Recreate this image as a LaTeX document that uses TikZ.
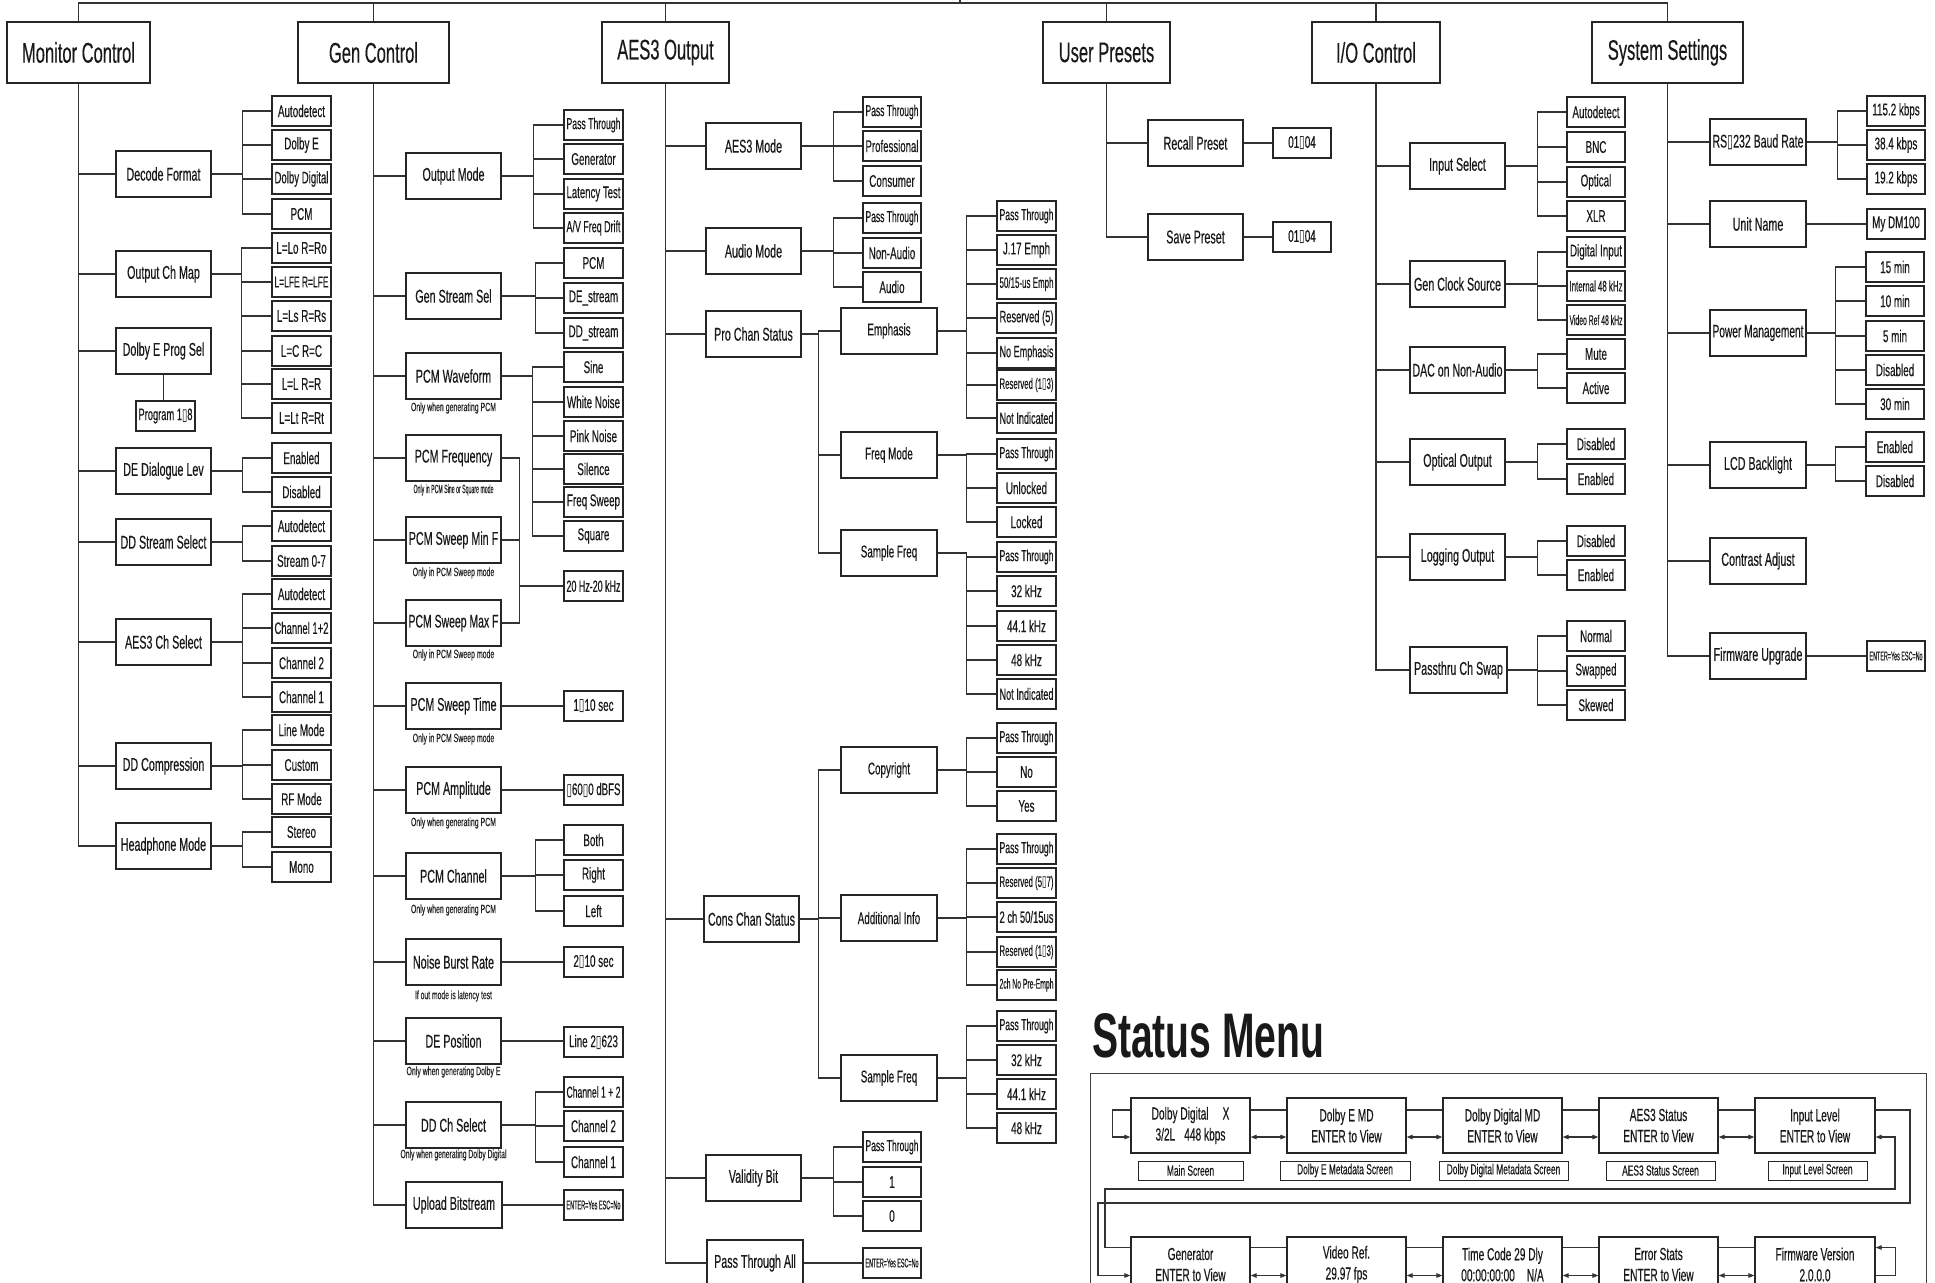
\documentclass[tikz,border=0pt]{standalone}
\usepackage{fontspec}
\setmainfont[FakeStretch=0.58,FakeBold=0.3]{Liberation Sans}
\newfontfamily\titlefont[FakeStretch=0.62]{Liberation Sans}
\newfontfamily\symfont[FakeStretch=0.6]{DejaVu Sans}
\usepackage{graphicx}
\usetikzlibrary{arrows.meta}
\newcommand\tofu{{\symfont ▯}}
\newlength\fitlen
\newcommand\fittext[2]{\setlength\fitlen{#1}\sbox0{#2}\ifdim\wd0>\fitlen
 \pgfmathsetmacro\fitfx{\fitlen/\wd0}\pgfmathsetmacro\fitfy{sqrt(\fitfx)}\scalebox{\fitfx}[\fitfy]{\usebox0}\else\usebox0\fi}
\newcommand\fitx[2]{\setlength\fitlen{#1}\sbox0{#2}\ifdim\wd0>\fitlen\resizebox{\fitlen}{\height}{\usebox0}\else\usebox0\fi}
\newcommand\boxn[7][]{%
 \pgfmathsetmacro\bxcx{(#3+#5)/2}%
 \pgfmathsetmacro\bxcy{(#4+#6)/2}%
 \pgfmathsetmacro\bxw{#5-#3}%
 \pgfmathsetmacro\bxh{#6-#4}%
 \node[box,#1,minimum width=\bxw pt,minimum height=\bxh pt] (#2) at (\bxcx,\bxcy) {\fittext{\dimexpr\bxw pt-5pt\relax}{#7}};}
\newcommand\boxp[7][]{%
 \pgfmathsetmacro\bxcx{(#3+#5)/2}%
 \pgfmathsetmacro\bxcy{(#4+#6)/2}%
 \pgfmathsetmacro\bxw{#5-#3}%
 \pgfmathsetmacro\bxh{#6-#4}%
 \node[box,#1,minimum width=\bxw pt,minimum height=\bxh pt] (#2) at (\bxcx,\bxcy) {#7};}
\newcommand\opt[5][59]{\boxn[opt]{#2}{#3}{#4}{#3+#1}{#4+30}{#5}}
\newcommand\lvl[5][95]{\boxn[lvl]{#2}{#3}{#4}{#3+#1}{#4+46}{#5}}
\newcommand\lvlc[5][96]{\boxn[lvlc]{#2}{#3}{#4}{#3+#1}{#4+46}{#5}}
\newcommand\branch[3]{\foreach \chn in {#3}{\draw[conn] (#1.east) -- ++(#2,0) |- (\chn.west);}}
\newcommand\trunk[2]{\foreach \chn in {#2}{\draw[conn] (#1.south) |- (\chn.west);}}
\newcommand\single[2]{\draw[conn] (#1.east) -- (#1.east -| #2.west);}
\tikzset{
 box/.style={draw=black!85, line width=1.2pt, fill=white, inner sep=0pt, text=black!90},
 hdr/.style={font=\fontsize{28.5}{30}\selectfont},
 lvl/.style={font=\fontsize{18.5}{20}\selectfont},
 lvlc/.style={font=\fontsize{17}{19}\selectfont},
 opt/.style={font=\fontsize{17}{19}\selectfont},
 stat/.style={font=\fontsize{17.5}{21}\selectfont, align=center, line width=1.3pt},
 lab/.style={font=\fontsize{14.5}{15}\selectfont, line width=1pt},
 frame/.style={fill=none, line width=1pt, draw=black!75},
 conn/.style={draw=black!80, line width=1.2pt},
 notes/.style={font=\fontsize{12}{13}\selectfont, inner sep=0pt, text=black!85},
 arr/.style={conn,-{Triangle[length=6pt,width=4.5pt]}},
 darr/.style={conn,{Triangle[length=6pt,width=4.5pt]}-{Triangle[length=6pt,width=4.5pt]}},
}
\begin{document}
\begin{tikzpicture}[x=1pt,y=-1pt]
\useasboundingbox (0,0) rectangle (1935,1282);
\fill[white] (0,0) rectangle (1935,1282);
\clip (0,0) rectangle (1935,1282);
\coordinate (top) at (0,3);
\coordinate (root) at (960,0);

% ---------------- headers
\boxn[hdr]{MC}{7}{22}{150}{83}{Monitor Control}
\boxn[hdr]{GC}{298}{22}{449}{83}{Gen Control}
\boxn[hdr]{AO}{602}{22}{729}{83}{AES3 Output}
\boxn[hdr]{UP}{1043}{22}{1170}{83}{User Presets}
\boxn[hdr]{IO}{1312}{22}{1440}{83}{I/O Control}
\boxn[hdr]{SS}{1592}{22}{1743}{83}{System Settings}
\draw[conn] (MC.north) |- (SS.north |- top) -- (SS.north);
\foreach \h in {GC,AO,UP,IO} \draw[conn] (\h.north) -- (\h.north |- top);
\draw[conn] (root) -- (root |- top);

% ---------------- Monitor Control
\lvl{DF}{116}{151}{Decode Format}
\lvl{OCM}{116}{251}{Output Ch Map}
\lvl{DEPS}{116}{328}{Dolby E Prog Sel}
\opt{P18}{136}{401}{Program 1\tofu 8}
\lvl{DEDL}{116}{448}{DE Dialogue Lev}
\lvl{DDSS}{116}{519}{DD Stream Select}
\lvl{ACS}{116}{619}{AES3 Ch Select}
\lvl{DDC}{116}{743}{DD Compression}
\lvl{HPM}{116}{823}{Headphone Mode}
\opt{a1}{272}{96}{Autodetect}
\opt{a2}{272}{130}{Dolby E}
\opt{a3}{272}{164}{Dolby Digital}
\opt{a4}{272}{199}{PCM}
\opt{a5}{272}{233}{L=Lo R=Ro}
\opt{a6}{272}{267}{L=LFE R=LFE}
\opt{a7}{272}{301}{L=Ls R=Rs}
\opt{a8}{272}{336}{L=C R=C}
\opt{a9}{272}{369}{L=L R=R}
\opt{a10}{272}{403}{L=Lt R=Rt}
\opt{a11}{272}{443}{Enabled}
\opt{a12}{272}{477}{Disabled}
\opt{a13}{272}{511}{Autodetect}
\opt{a14}{272}{546}{Stream 0-7}
\opt{a15}{272}{579}{Autodetect}
\opt{a16}{272}{613}{Channel 1+2}
\opt{a17}{272}{648}{Channel 2}
\opt{a18}{272}{682}{Channel 1}
\opt{a19}{272}{715}{Line Mode}
\opt{a20}{272}{750}{Custom}
\opt{a21}{272}{784}{RF Mode}
\opt{a22}{272}{817}{Stereo}
\opt{a23}{272}{852}{Mono}
\trunk{MC}{DF,OCM,DEPS,DEDL,DDSS,ACS,DDC,HPM}
\draw[conn] (DEPS.south) -- (DEPS.south |- P18.north);
\branch{DF}{31}{a1,a2,a3,a4}
\branch{OCM}{30}{a5,a6,a7,a8,a9,a10}
\branch{DEDL}{31}{a11,a12}
\branch{DDSS}{31}{a13,a14}
\branch{ACS}{31}{a15,a16,a17,a18}
\branch{DDC}{31}{a19,a20,a21}
\branch{HPM}{31}{a22,a23}

% ---------------- Gen Control
\lvl{OM}{406}{153}{Output Mode}
\lvl{GSS}{406}{273}{Gen Stream Sel}
\lvl{PW}{406}{353}{PCM Waveform}
\lvl{PF}{406}{435}{PCM Frequency}
\lvl{PSMin}{406}{517}{PCM Sweep Min F}
\lvl{PSMax}{406}{600}{PCM Sweep Max F}
\lvl{PST}{406}{683}{PCM Sweep Time}
\lvl{PA}{406}{767}{PCM Amplitude}
\lvl{PC}{406}{853}{PCM Channel}
\lvl{NBR}{406}{939}{Noise Burst Rate}
\lvl{DEP}{406}{1018}{DE Position}
\lvl{DDCS}{406}{1102}{DD Ch Select}
\lvl[96]{UB}{406}{1182}{Upload Bitstream}
\node[notes] (n1) at (453.5,408) {Only when generating PCM};
\node[notes] (n2) at (453.5,490) {\fitx{80pt}{Only in PCM Sine or Square mode}};
\node[notes] (n3) at (453.5,573) {Only in PCM Sweep mode};
\node[notes] (n4) at (453.5,655) {Only in PCM Sweep mode};
\node[notes] (n5) at (453.5,739) {Only in PCM Sweep mode};
\node[notes] (n6) at (453.5,823) {Only when generating PCM};
\node[notes] (n7) at (453.5,910) {Only when generating PCM};
\node[notes] (n8) at (453.5,996) {\fitx{77pt}{If out mode is latency test}};
\node[notes] (n9) at (453.5,1072) {Only when generating Dolby E};
\node[notes] (n10) at (453.5,1155) {\fitx{106pt}{Only when generating Dolby Digital}};
\opt{b1}{564}{110}{Pass Through}
\opt{b2}{564}{144}{Generator}
\opt{b3}{564}{179}{Latency Test}
\opt{b4}{564}{213}{A/V Freq Drift}
\opt{b5}{564}{248}{PCM}
\opt{b6}{564}{283}{DE\_stream}
\opt{b7}{564}{318}{DD\_stream}
\opt{b8}{564}{352}{Sine}
\opt{b9}{564}{387}{White Noise}
\opt{b10}{564}{421}{Pink Noise}
\opt{b11}{564}{454}{Silence}
\opt{b12}{564}{487}{Freq Sweep}
\opt{b13}{564}{521}{Square}
\opt{b14}{564}{571}{20 Hz-20 kHz}
\opt{b15}{564}{691}{1\tofu 10 sec}
\opt{b16}{564}{775}{\tofu 60\tofu 0 dBFS}
\opt{b17}{564}{825}{Both}
\opt{b18}{564}{860}{Right}
\opt{b19}{564}{896}{Left}
\opt{b20}{564}{947}{2\tofu 10 sec}
\opt{b21}{564}{1027}{Line 2\tofu 623}
\opt{b22}{564}{1077}{Channel 1 + 2}
\opt{b23}{564}{1111}{Channel 2}
\opt{b24}{564}{1147}{Channel 1}
\opt{b25}{564}{1190}{ENTER=Yes ESC=No}
\trunk{GC}{OM,GSS,PW,PF,PSMin,PSMax,PST,PA,PC,NBR,DEP,DDCS,UB}
\branch{OM}{32}{b1,b2,b3,b4}
\branch{GSS}{34}{b5,b6,b7}
\branch{PW}{31}{b8,b9,b10,b11,b12,b13}
\branch{PF}{18}{b14}
\branch{PSMin}{18}{b14}
\branch{PSMax}{18}{b14}
\single{PST}{b15}
\single{PA}{b16}
\branch{PC}{34}{b17,b18,b19}
\single{NBR}{b20}
\single{DEP}{b21}
\branch{DDCS}{34}{b22,b23,b24}
\single{UB}{b25}

% ---------------- AES3 Output
\lvl{AM}{706}{123}{AES3 Mode}
\lvl{AUM}{706}{228}{Audio Mode}
\lvl{PCS}{706}{311}{Pro Chan Status}
\lvl{CCS}{704}{896}{Cons Chan Status}
\lvl{VB}{706}{1155}{Validity Bit}
\lvl[96]{PTA}{707}{1240}{Pass Through All}
\opt[58]{c1}{863}{97}{Pass Through}
\opt[58]{c2}{863}{131}{Professional}
\opt[58]{c3}{863}{166}{Consumer}
\opt[58]{c4}{863}{203}{Pass Through}
\opt[58]{c5}{863}{238}{Non-Audio}
\opt[58]{c6}{863}{272}{Audio}
\opt[58]{c7}{863}{1132}{Pass Through}
\opt[58]{c8}{863}{1167}{1}
\opt[58]{c9}{863}{1201}{0}
\opt[58]{c10}{863}{1248}{ENTER=Yes ESC=No}
\lvlc{EMP}{841}{308}{Emphasis}
\lvlc{FM}{841}{432}{Freq Mode}
\lvlc{SF1}{841}{530}{Sample Freq}
\lvlc{CR}{841}{747}{Copyright}
\lvlc{AI}{841}{895}{Additional Info}
\lvlc{SF2}{841}{1055}{Sample Freq}
\opt{d1}{997}{201}{Pass Through}
\opt{d2}{997}{235}{J.17 Emph}
\opt{d3}{997}{269}{50/15-us Emph}
\opt{d4}{997}{303}{Reserved (5)}
\opt{d5}{997}{338}{No Emphasis}
\opt{d6}{997}{370}{Reserved (1\tofu 3)}
\opt{d7}{997}{403}{Not Indicated}
\opt{d8}{997}{439}{Pass Through}
\opt{d9}{997}{473}{Unlocked}
\opt{d10}{997}{507}{Locked}
\opt{d11}{997}{542}{Pass Through}
\opt{d12}{997}{576}{32 kHz}
\opt{d13}{997}{611}{44.1 kHz}
\opt{d14}{997}{645}{48 kHz}
\opt{d15}{997}{679}{Not Indicated}
\opt{d16}{997}{723}{Pass Through}
\opt{d17}{997}{757}{No}
\opt{d18}{997}{791}{Yes}
\opt{d19}{997}{834}{Pass Through}
\opt{d20}{997}{868}{Reserved (5\tofu 7)}
\opt{d21}{997}{902}{2 ch 50/15us}
\opt{d22}{997}{937}{Reserved (1\tofu 3)}
\opt{d23}{997}{970}{2ch No Pre-Emph}
\opt{d24}{997}{1011}{Pass Through}
\opt{d25}{997}{1045}{32 kHz}
\opt{d26}{997}{1079}{44.1 kHz}
\opt{d27}{997}{1113}{48 kHz}
\trunk{AO}{AM,AUM,PCS,CCS,VB,PTA}
\branch{AM}{32}{c1,c2,c3}
\branch{AUM}{32}{c4,c5,c6}
\branch{VB}{32}{c7,c8,c9}
\single{PTA}{c10}
\branch{PCS}{17}{EMP,FM,SF1}
\branch{CCS}{19}{CR,AI,SF2}
\branch{EMP}{29}{d1,d2,d3,d4,d5,d6,d7}
\branch{FM}{29}{d8,d9,d10}
\branch{SF1}{29}{d11,d12,d13,d14,d15}
\branch{CR}{29}{d16,d17,d18}
\branch{AI}{29}{d19,d20,d21,d22,d23}
\branch{SF2}{29}{d24,d25,d26,d27}

% ---------------- User Presets
\lvl{RP}{1148}{120}{Recall Preset}
\lvl{SP}{1148}{214}{Save Preset}
\opt[58]{e1}{1273}{128}{01\tofu 04}
\opt[58]{e2}{1273}{222}{01\tofu 04}
\trunk{UP}{RP,SP}
\single{RP}{e1}
\single{SP}{e2}

% ---------------- I/O Control
\lvl{IS}{1410}{143}{Input Select}
\lvl{GCS}{1410}{261}{Gen Clock Source}
\lvl{DAC}{1410}{347}{DAC on Non-Audio}
\lvl{OO}{1410}{439}{Optical Output}
\lvl{LO}{1410}{534}{Logging Output}
\lvl[97]{PCSW}{1410}{647}{Passthru Ch Swap}
\opt[58]{f1}{1567}{97}{Autodetect}
\opt[58]{f2}{1567}{132}{BNC}
\opt[58]{f3}{1567}{167}{Optical}
\opt[58]{f4}{1567}{201}{XLR}
\opt[58]{f5}{1567}{237}{Digital Input}
\opt[58]{f6}{1567}{271}{Internal 48 kHz}
\opt[58]{f7}{1567}{305}{Video Ref 48 kHz}
\opt[58]{f8}{1567}{339}{Mute}
\opt[58]{f9}{1567}{373}{Active}
\opt[58]{f10}{1567}{429}{Disabled}
\opt[58]{f11}{1567}{464}{Enabled}
\opt[58]{f12}{1567}{526}{Disabled}
\opt[58]{f13}{1567}{560}{Enabled}
\opt[58]{f14}{1567}{621}{Normal}
\opt[58]{f15}{1567}{656}{Swapped}
\opt[58]{f16}{1567}{690}{Skewed}
\trunk{IO}{IS,GCS,DAC,OO,LO,PCSW}
\branch{IS}{32}{f1,f2,f3,f4}
\branch{GCS}{32}{f5,f6,f7}
\branch{DAC}{32}{f8,f9}
\branch{OO}{32}{f10,f11}
\branch{LO}{32}{f12,f13}
\branch{PCSW}{30}{f14,f15,f16}

% ---------------- System Settings
\lvl[96]{RS}{1710}{119}{RS\tofu 232 Baud Rate}
\lvl[96]{UN}{1710}{201}{Unit Name}
\lvl[96]{PM}{1710}{310}{Power Management}
\lvl[96]{LCD}{1710}{442}{LCD Backlight}
\lvl[96]{CA}{1710}{538}{Contrast Adjust}
\lvl[96]{FU}{1710}{633}{Firmware Upgrade}
\opt[58]{g1}{1867}{96}{115.2 kbps}
\opt[58]{g2}{1867}{130}{38.4 kbps}
\opt[58]{g3}{1867}{164}{19.2 kbps}
\opt[58]{g4}{1867}{209}{My DM100}
\opt[58]{g5}{1866}{252}{15 min}
\opt[58]{g6}{1866}{286}{10 min}
\opt[58]{g7}{1866}{321}{5 min}
\opt[58]{g8}{1866}{355}{Disabled}
\opt[58]{g9}{1866}{389}{30 min}
\opt[58]{g10}{1866}{432}{Enabled}
\opt[58]{g11}{1866}{466}{Disabled}
\opt[58]{g12}{1867}{641}{ENTER=Yes ESC=No}
\trunk{SS}{RS,UN,PM,LCD,CA,FU}
\branch{RS}{31}{g1,g2,g3}
\single{UN}{g4}
\branch{PM}{29}{g5,g6,g7,g8,g9}
\branch{LCD}{29}{g10,g11}
\single{FU}{g12}

% ---------------- Status Menu
\node[anchor=base west, inner sep=0pt, text=black!90, font=\titlefont\bfseries\fontsize{63}{63}\selectfont] (SM) at (1092,1057) {Status Menu};
\boxp[frame]{SF}{1090}{1073}{1926}{1320}{}
\boxp[stat]{S1}{1131}{1098}{1250}{1153}{Dolby Digital\hspace{14pt}X\\3/2L\hspace{9pt}448 kbps}
\boxp[stat]{S2}{1287}{1098}{1406}{1153}{Dolby E MD\\ENTER to View}
\boxp[stat]{S3}{1443}{1098}{1562}{1153}{Dolby Digital MD\\ENTER to View}
\boxp[stat]{S4}{1599}{1098}{1718}{1153}{AES3 Status\\ENTER to View}
\boxp[stat]{S5}{1755}{1098}{1875}{1153}{Input Level\\ENTER to View}
\boxn[lab]{L1}{1138}{1161}{1243}{1180}{Main Screen}
\boxn[lab]{L2}{1280}{1161}{1410}{1180}{Dolby E Metadata Screen}
\boxn[lab]{L3}{1439}{1161}{1568}{1180}{Dolby Digital Metadata Screen}
\boxn[lab]{L4}{1606}{1161}{1715}{1180}{AES3 Status Screen}
\boxn[lab]{L5}{1768}{1161}{1867}{1180}{Input Level Screen}
\boxp[stat]{G1}{1131}{1237}{1250}{1292}{Generator\\ENTER to View}
\boxp[stat]{G2}{1287}{1237}{1406}{1292}{Video Ref.\\29.97 fps}
\boxp[stat]{G3}{1443}{1237}{1562}{1292}{Time Code 29 Dly\\00:00:00:00\hspace{12pt}N/A}
\boxp[stat]{G4}{1599}{1237}{1718}{1292}{Error Stats\\ENTER to View}
\boxp[stat]{G5}{1755}{1237}{1875}{1292}{Firmware Version\\2.0.0.0}
\foreach \p/\q in {S1/S2,S2/S3,S3/S4,S4/S5}{
 \draw[conn] ([yshift=15.5pt]\p.east) -- ([yshift=15.5pt]\q.west);
 \draw[darr] ([yshift=-11.5pt]\p.east) -- ([yshift=-11.5pt]\q.west);}
\foreach \p/\q in {G1/G2,G2/G3,G3/G4,G4/G5}{
 \draw[conn] ([yshift=17pt]\p.east) -- ([yshift=17pt]\q.west);
 \draw[darr] ([yshift=-11pt]\p.east) -- ([yshift=-11pt]\q.west);}
\draw[arr] ([yshift=15.5pt]S1.west) -- ++(-18,0) |- ([yshift=-11.5pt]S1.west);
\coordinate (ra) at (1910,1203);
\coordinate (la) at (1098,1203);
\coordinate (lb) at (1105,1189);
\coordinate (rb) at (1895,1189);
\draw[arr] ([yshift=15.5pt]S5.east) -| (ra) -- (la) |- ([yshift=-11pt]G1.west);
\draw[arr] ([yshift=17pt]G1.west) -| (lb) -- (rb) |- ([yshift=-11.5pt]S5.east);
\draw[arr] ([yshift=-11pt]G5.east) -- ++(20,0) |- ([yshift=17pt]G5.east);
\end{tikzpicture}
\end{document}
